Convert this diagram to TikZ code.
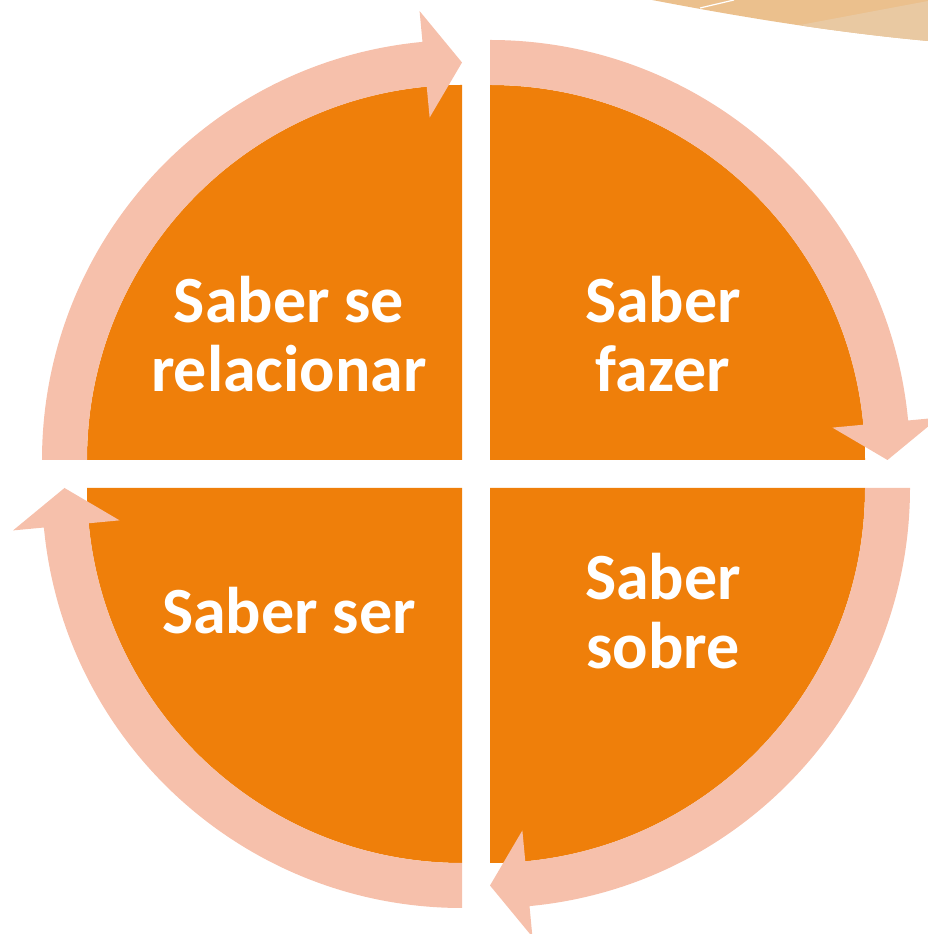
\documentclass[tikz,border=0pt]{standalone}
\usepackage{fontspec}
\setmainfont{Carlito}
\definecolor{sectorfill}{RGB}{239,127,10}
\definecolor{ringfill}{RGB}{246,192,171}
\definecolor{swooshdark}{RGB}{235,192,141}
\definecolor{swooshlight}{RGB}{233,201,162}
\tikzset{
  sector/.style={fill=sectorfill},
  ring/.style={fill=ringfill},
  label/.style={text=white,font=\fontsize{66}{69}\selectfont\bfseries,align=center,inner sep=0pt}
}
\begin{document}
\begin{tikzpicture}[x=1pt,y=1pt,line join=miter]
\useasboundingbox (0,0) rectangle (928,934);
%%
% corner swoosh
\begin{scope}
  \clip (652,934) .. controls (720,921) and (820,903) .. (928,893) -- (928,934) -- cycle;
  \fill[swooshdark] (640,880) rectangle (928,934);
  \fill[swooshlight] (800,909) -- (928,933) -- (928,880) -- cycle;
  \draw[white,line width=1.2pt] (700,926) -- (734,934);
\end{scope}
%%
% quarters
\fill[sector] (490,474) -- ++(0:375) arc (0:90:375) -- cycle;
\fill[sector] (462,474) -- ++(90:375) arc (90:180:375) -- cycle;
\fill[sector] (462,446) -- ++(180:375) arc (180:270:375) -- cycle;
\fill[sector] (490,446) -- ++(270:375) arc (270:360:375) -- cycle;
%%
% ring arrows, clockwise
\foreach \cx/\cy/\s in {490/474/90, 462/474/180, 462/446/270, 490/446/360}{
  \fill[ring] (\cx,\cy) ++(\s:420) arc (\s:\s-84.6:420)
    -- ++(\s-84.6:31) -- ([shift={(\cx,\cy)}]\s-90:397.5)
    -- ([shift={(\cx,\cy)}]\s-84.6:344) -- ++(\s-84.6:31)
    arc (\s-84.6:\s:375) -- cycle;
}
%%
\node (node_0) at (289,600) [label] {Saber se\\relacionar};
\node (node_1) at (663,600) [label] {Saber\\fazer};
\node (node_2) at (663,323) [label] {Saber\\sobre};
\node (node_3) at (289,323) [label] {Saber ser};
%
\end{tikzpicture}
\end{document}
